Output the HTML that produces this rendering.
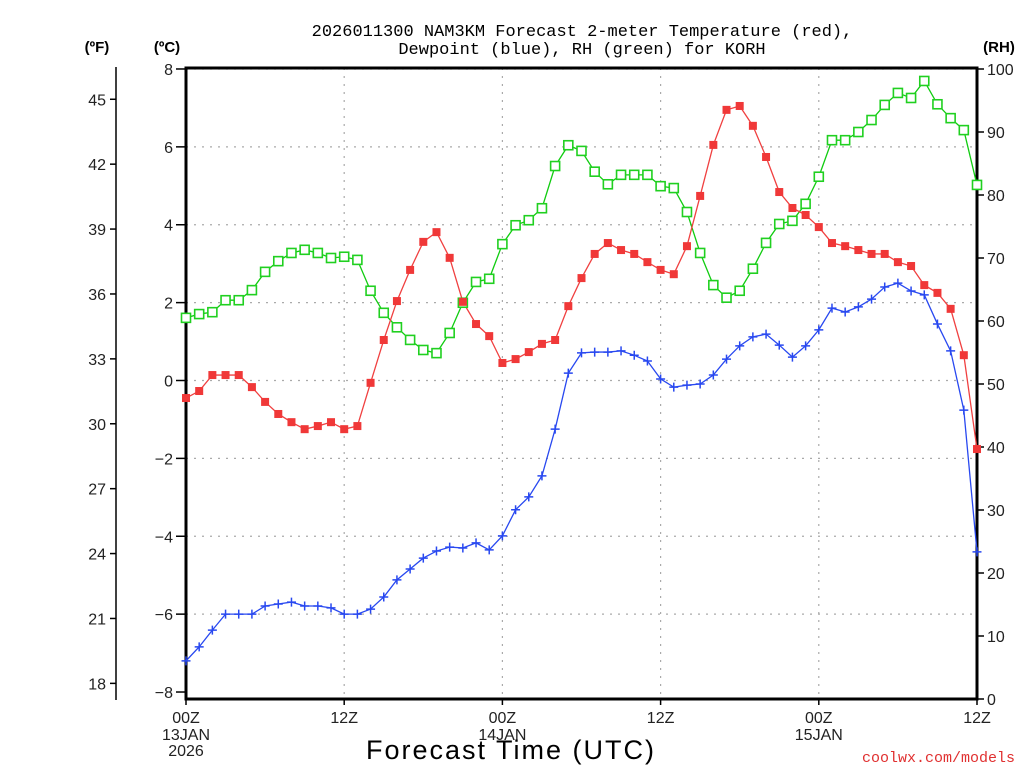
<!DOCTYPE html>
<html><head><meta charset="utf-8"><style>
body{margin:0;background:#fff;}
svg{display:block;font-family:"Liberation Sans",sans-serif;}
</style></head><body>
<svg id="chart" width="1024" height="768" viewBox="0 0 1024 768" xmlns="http://www.w3.org/2000/svg">
<g id="grid"></g>
<g id="axes"></g>
<g id="series"></g>
<text x="582" y="36" font-size="17" text-anchor="middle" font-family="Liberation Mono, monospace">2026011300 NAM3KM Forecast 2-meter Temperature (red),</text>
<text x="582" y="54" font-size="17" text-anchor="middle" font-family="Liberation Mono, monospace">Dewpoint (blue), RH (green) for KORH</text>
<text x="97" y="52" font-size="15" font-weight="bold" text-anchor="middle">(ºF)</text>
<text x="167" y="52" font-size="15" font-weight="bold" text-anchor="middle">(ºC)</text>
<text x="999" y="52" font-size="15" font-weight="bold" text-anchor="middle">(RH)</text>
<text x="511" y="759" font-size="27" text-anchor="middle" letter-spacing="2">Forecast Time (UTC)</text>
<text x="1015" y="762" font-size="15" fill="#e03030" text-anchor="end" font-family="Liberation Mono, monospace">coolwx.com/models</text>
</svg>
<script>
const hours = Array.from({length:61},(_,i)=>i);
const tempC = [-0.45,-0.27,0.14,0.14,0.14,-0.17,-0.55,-0.86,-1.07,-1.25,-1.17,-1.07,-1.25,-1.17,-0.06,1.04,2.04,2.84,3.56,3.81,3.15,2.02,1.45,1.14,0.45,0.55,0.73,0.94,1.04,1.91,2.63,3.25,3.53,3.35,3.25,3.04,2.84,2.73,3.45,4.74,6.05,6.95,7.05,6.54,5.74,4.84,4.43,4.25,3.94,3.53,3.45,3.35,3.25,3.25,3.04,2.94,2.45,2.25,1.84,0.65,-1.76];
const dewC = [-7.20,-6.84,-6.41,-6.00,-6.00,-6.00,-5.79,-5.74,-5.69,-5.79,-5.79,-5.84,-6.00,-6.00,-5.87,-5.56,-5.12,-4.84,-4.56,-4.38,-4.28,-4.30,-4.17,-4.35,-3.99,-3.32,-2.99,-2.45,-1.25,0.19,0.71,0.73,0.73,0.76,0.65,0.50,0.04,-0.17,-0.12,-0.09,0.14,0.55,0.89,1.12,1.19,0.91,0.60,0.89,1.30,1.86,1.76,1.89,2.09,2.40,2.50,2.30,2.20,1.45,0.76,-0.76,-4.40];
const rh = [60.5,61.1,61.4,63.3,63.3,64.9,67.8,69.5,70.8,71.3,70.8,70.0,70.2,69.7,64.8,61.3,59.0,57.0,55.4,54.9,58.1,62.9,66.2,66.7,72.2,75.2,76.0,77.9,84.6,87.9,87.0,83.7,81.7,83.2,83.2,83.2,81.4,81.1,77.3,70.8,65.7,63.7,64.8,68.3,72.4,75.4,75.9,78.6,82.9,88.7,88.7,90.0,91.9,94.3,96.2,95.4,98.1,94.4,92.2,90.3,81.6];
const cTicks = [8,6,4,2,0,-2,-4,-6,-8];
const cLabels = ["8","6","4","2","0","\u22122","\u22124","\u22126","\u22128"];
const fTicks = [45,42,39,36,33,30,27,24,21,18];
const rhTicks = [100,90,80,70,60,50,40,30,20,10,0];
const xTickHours = [0,12,24,36,48,60];
const xTickLabels = ["00Z","12Z","00Z","12Z","00Z","12Z"];
const xDateLabels = [["13JAN","2026"],[],["14JAN"],[],["15JAN"],[]];

const NS="http://www.w3.org/2000/svg";
const X0=186,X1=977,YT=68,YB=699;
const xS=h=>X0+(X1-X0)*h/60;
const yC=c=>380.5-c*38.94;
const yRH=r=>699-r*6.3;
const yF=f=>yC((f-32)*5/9);
function mk(tag,attrs,parent){const e=document.createElementNS(NS,tag);for(const k in attrs)e.setAttribute(k,attrs[k]);parent.appendChild(e);return e;}
const grid=document.getElementById('grid'),axes=document.getElementById('axes'),ser=document.getElementById('series');

cTicks.forEach((c,i)=>{
  const y=yC(c);
  if(c>-8){const g=mk('line',{x1:X0,x2:X1,y1:y,y2:y,stroke:'#aaa','stroke-width':1.2,'stroke-dasharray':'2,6'},grid);
  
  }
  const t=mk('line',{x1:X0-10,x2:X0,y1:y,y2:y,stroke:'#000','stroke-width':1.5},axes);
  
  
  const l=mk('text',{x:X0-13,y:y+6,'font-size':16,'text-anchor':'end',fill:'#222'},axes);l.textContent=cLabels[i];
  
  
});
xTickHours.forEach((h,i)=>{
  const x=xS(h);
  if(h>0&&h<60){const g=mk('line',{x1:x,x2:x,y1:YT,y2:YB,stroke:'#aaa','stroke-width':1.2,'stroke-dasharray':'2,6'},grid);
  
  }
  const t=mk('line',{x1:x,x2:x,y1:YB,y2:YB+6,stroke:'#000','stroke-width':1.5},axes);
  
  
  const l=mk('text',{x:x,y:723,'font-size':16,'text-anchor':'middle',fill:'#222'},axes);l.textContent=xTickLabels[i];
  
  
  xDateLabels[i].forEach((d,j)=>{const dl=mk('text',{x:x,y:740+j*16,'font-size':16,'text-anchor':'middle',fill:'#222'},axes);dl.textContent=d;
  
  });
});
const fl=mk('line',{x1:116,x2:116,y1:67,y2:700,stroke:'#000','stroke-width':1.5},axes);


fTicks.forEach(f=>{
  const y=yF(f);
  const t=mk('line',{x1:110,x2:116,y1:y,y2:y,stroke:'#000','stroke-width':1.5},axes);
  
  
  const l=mk('text',{x:106,y:y+6,'font-size':16,'text-anchor':'end',fill:'#222'},axes);l.textContent=f;
  
  
});
rhTicks.forEach(r=>{
  const y=yRH(r);
  const t=mk('line',{x1:X1,x2:X1+7,y1:y,y2:y,stroke:'#000','stroke-width':1.5},axes);
  
  
  const l=mk('text',{x:X1+10,y:y+6,'font-size':16,'text-anchor':'start',fill:'#222'},axes);l.textContent=r;
  
  
});
const fr=mk('rect',{x:X0,y:YT,width:X1-X0,height:YB-YT,fill:'none',stroke:'#000','stroke-width':3},axes);



function line(vals,yf,color,name){
  const p=mk('polyline',{points:vals.map((v,i)=>xS(hours[i])+','+yf(v)).join(' '),fill:'none',stroke:color,'stroke-width':1.3},ser);
  
  
}
line(rh,yRH,'#10cc10','rh-line');
line(tempC,yC,'#f04040','temperature-line');
line(dewC,yC,'#2848f0','dewpoint-line');
rh.forEach((v,i)=>{const m=mk('rect',{x:xS(hours[i])-4.5,y:yRH(v)-4.5,width:9,height:9,fill:'#fff',stroke:'#20d020','stroke-width':1.6},ser);
  
  });
tempC.forEach((v,i)=>{const m=mk('rect',{x:xS(hours[i])-4,y:yC(v)-4,width:8,height:8,fill:'#f03838'},ser);
  
  });
dewC.forEach((v,i)=>{const x=xS(hours[i]),y=yC(v);const m=mk('path',{d:`M${x-4.5},${y}H${x+4.5}M${x},${y-4.5}V${y+4.5}`,stroke:'#2848f0','stroke-width':1.5},ser);
  
  });
</script>
</body></html>
